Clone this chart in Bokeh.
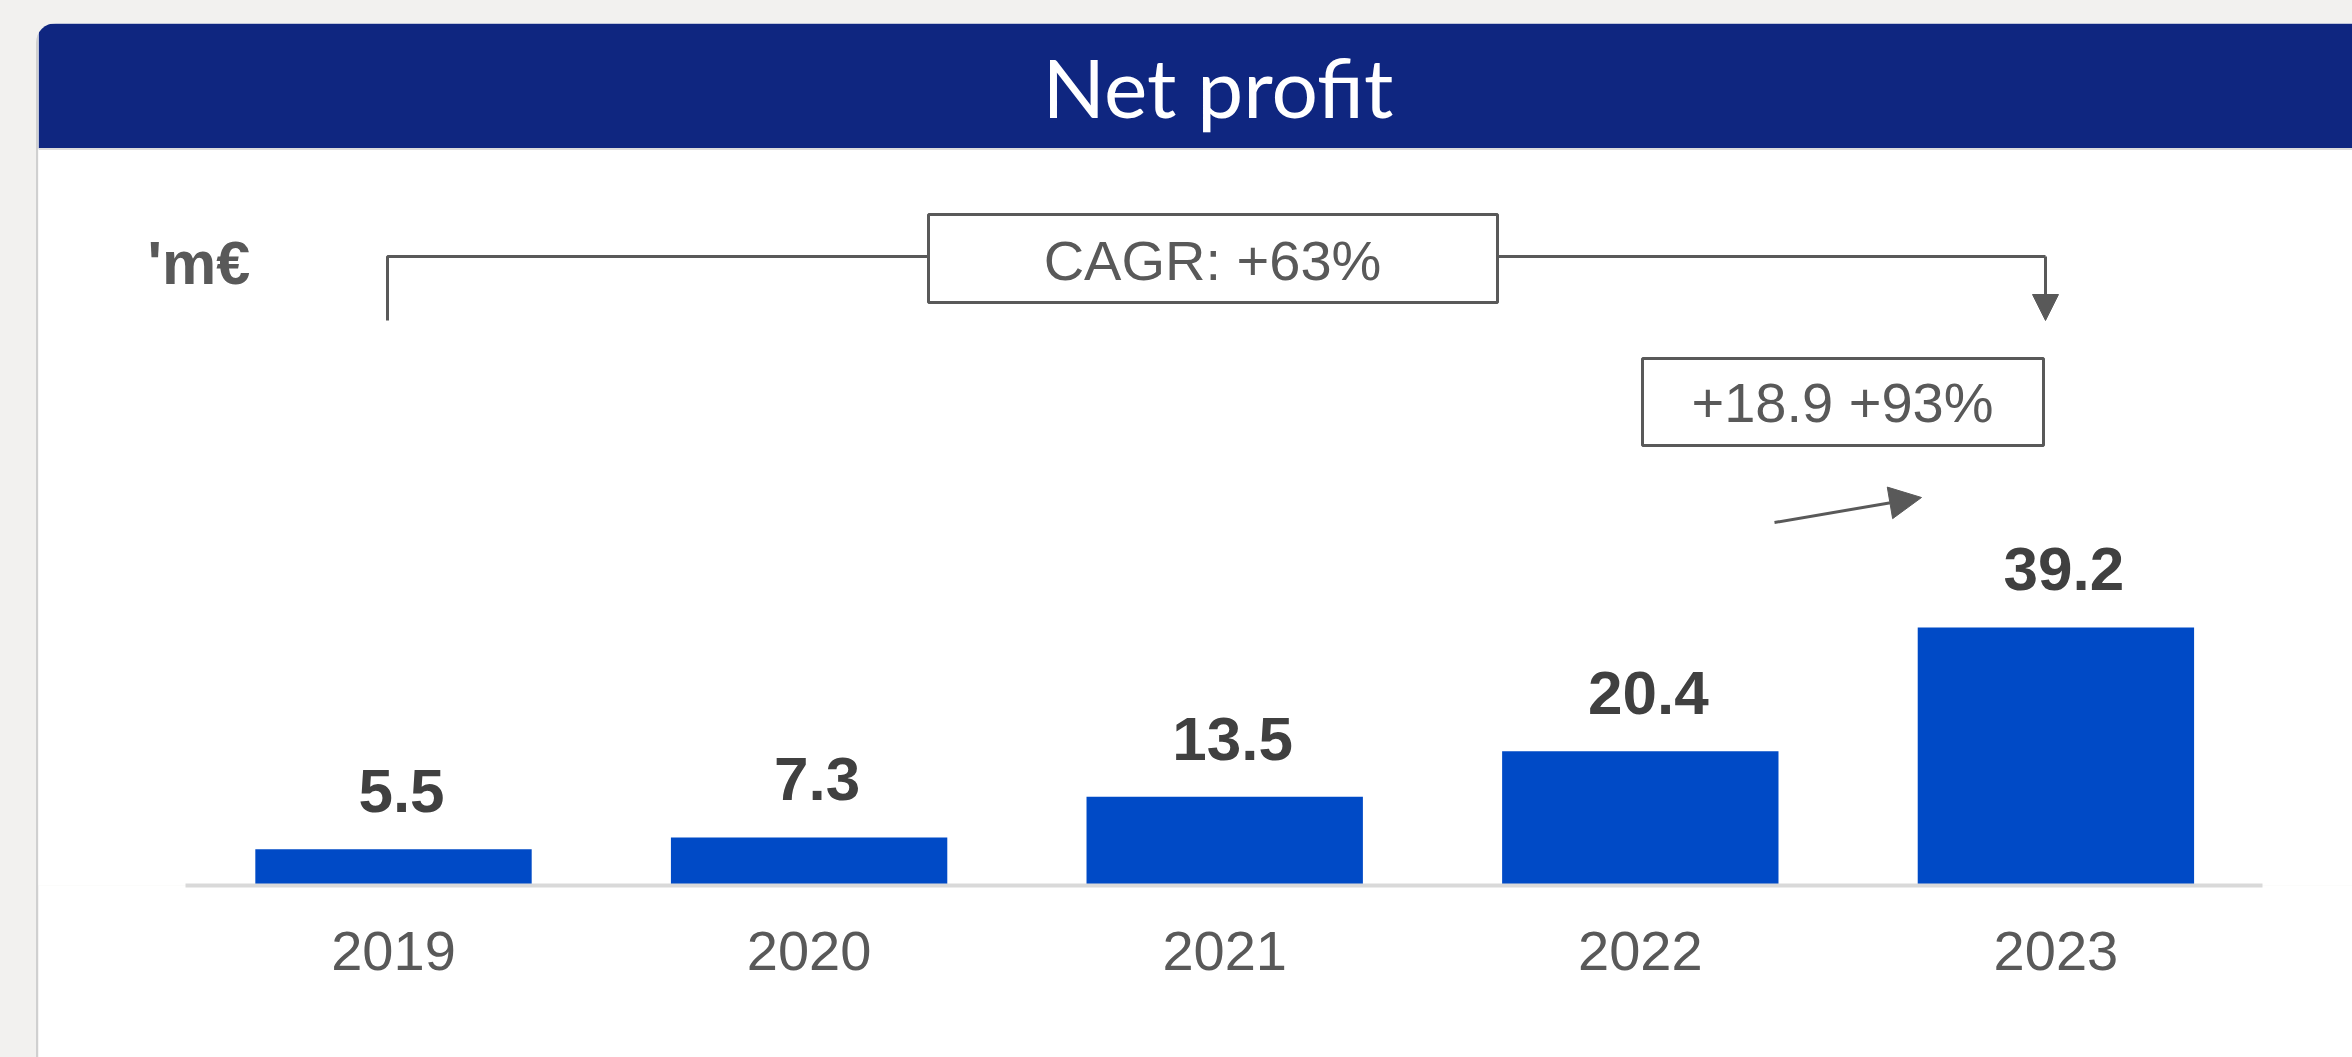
from bokeh.plotting import figure
from bokeh.models import (ColumnDataSource, Label, BoxAnnotation, Arrow, NormalHead,
                          Span, Range1d, FixedTicker, Spacer)
from bokeh.layouts import row, column
from bokeh.core.properties import value
from bokeh.embed import file_html
from bokeh.resources import INLINE

# ---- data ----
years = ["2019", "2020", "2021", "2022", "2023"]
net_profit = [5.5, 7.3, 13.5, 20.4, 39.2]
value_labels = ["5.5", "7.3", "13.5", "20.4", "39.2"]
title_text = "Net profit"
unit_text = "'m\u20ac"
cagr_text = "CAGR: +63%"
delta_text = "+18.9 +93%"

# ---- colours ----
NAVY = "#0f2680"
BAR = "#004ac6"
GREY = "#595959"
DARK = "#404040"

# ---- geometry (page pixels -> data) ----
CANVAS_LEFT = 38
CANVAS_TOP = 23
W = 2352 - CANVAS_LEFT
H = 1057 - CANVAS_TOP
STEP = 415.6          # px per category
X0 = -0.8542          # data x at canvas left
BASE = 885            # page y of value 0
PPU = 6.582           # px per unit on y
FRAME_H = BASE - CANVAS_TOP
BL = 0.34             # baseline correction (fraction of font size)


def xd(px):
    return (px - CANVAS_LEFT) / STEP + X0


def yd(py):
    return (BASE - py) / PPU


def yt(py, size):
    # data y for a text whose alphabetic baseline should sit at page y `py`
    return yd(py - BL * size)


idx = list(range(len(years)))
src = ColumnDataSource(dict(
    x=idx,
    top=net_profit,
    lx=[i + 8 / STEP for i in idx],
    ly=[v + (37 + BL * 62) / PPU for v in net_profit],
    lbl=value_labels,
))

p = figure(width=W, height=H, output_backend="svg", toolbar_location=None,
           x_range=Range1d(X0, X0 + W / STEP), y_range=Range1d(0, FRAME_H / PPU),
           y_axis_location=None, x_axis_location="below",
           min_border_left=0, min_border_right=0, min_border_top=0,
           min_border_bottom=H - FRAME_H)
p.outline_line_color = None
p.grid.visible = False
p.background_fill_color = "white"
p.border_fill_color = "white"

# header band
p.add_layout(BoxAnnotation(bottom=yd(148), fill_color=NAVY, fill_alpha=1.0,
                           line_color=None, level="underlay"))
p.add_layout(Span(location=yd(148.5), dimension="width", line_color="#dcdcdc",
                  line_width=2))
p.add_layout(Label(x=xd(1217.5), y=yt(113, 82), text=title_text, text_align="center",
                   text_baseline="alphabetic", text_font="Lato",
                   text_font_size="82px", text_color="white"))

# bars
p.vbar(x="x", top="top", bottom=0, width=0.665, source=src, fill_color=BAR,
       line_color=None)
p.text(x="lx", y="ly", text="lbl", source=src, text_font=value("Liberation Sans"),
       text_font_size="62px", text_font_style="bold", text_color=DARK,
       text_align="center", text_baseline="alphabetic")

# x axis
ax = p.xaxis[0]
ax.ticker = FixedTicker(ticks=idx)
ax.major_label_overrides = {i: y for i, y in zip(idx, years)}
ax.bounds = (xd(185), xd(2262))
ax.axis_line_color = "#d9d9d9"
ax.axis_line_width = 4
ax.major_tick_line_color = None
ax.minor_tick_line_color = None
ax.major_tick_out = 0
ax.major_label_standoff = 46
ax.major_label_text_font = "Liberation Sans"
ax.major_label_text_font_size = "56px"
ax.major_label_text_color = GREY

# unit label
p.add_layout(Label(x=xd(147), y=yt(283, 61), text=unit_text, text_align="left",
                   text_baseline="alphabetic", text_font="Liberation Sans",
                   text_font_size="61px", text_font_style="bold", text_color=GREY))

# CAGR bracket
p.line(x=[xd(387), xd(387), xd(928)], y=[yd(320), yd(256), yd(256)],
       line_color=GREY, line_width=3)
p.line(x=[xd(1497), xd(2045)], y=[yd(256), yd(256)], line_color=GREY, line_width=3)
p.add_layout(Arrow(x_start=xd(2045), y_start=yd(256), x_end=xd(2045), y_end=yd(320),
                   line_color=GREY, line_width=3,
                   end=NormalHead(size=26, fill_color=GREY, line_color=GREY)))
p.add_layout(BoxAnnotation(left=xd(928), right=xd(1497), top=yd(214), bottom=yd(302),
                           fill_color="white", fill_alpha=1.0, line_color=GREY,
                           line_alpha=1.0, line_width=3))
p.add_layout(Label(x=xd(1212), y=yt(279, 56), text=cagr_text, text_align="center",
                   text_baseline="alphabetic", text_font="Liberation Sans",
                   text_font_size="56px", text_color=GREY))

# delta box + arrow
p.add_layout(BoxAnnotation(left=xd(1642), right=xd(2043), top=yd(358), bottom=yd(445),
                           fill_color="white", fill_alpha=1.0, line_color=GREY,
                           line_alpha=1.0, line_width=3))
p.add_layout(Label(x=xd(1842), y=yt(421, 56), text=delta_text, text_align="center",
                   text_baseline="alphabetic", text_font="Liberation Sans",
                   text_font_size="56px", text_color=GREY))
p.add_layout(Arrow(x_start=xd(1774), y_start=yd(522), x_end=xd(1921), y_end=yd(497),
                   line_color=GREY, line_width=3,
                   end=NormalHead(size=32, fill_color=GREY, line_color=GREY)))

border = Spacer(width=2, height=H, styles={"background-color": "#d0d0d0"})
panel = row(border, p, styles={"border-top-left-radius": "20px", "overflow": "hidden"})
layout = column(Spacer(height=CANVAS_TOP), row(Spacer(width=CANVAS_LEFT - 2), panel))

html = file_html(layout, INLINE)
html = html.replace("</head>", "<style>body{background-color:#f2f1ef;}</style></head>", 1)
open("out.html", "w").write(html)
